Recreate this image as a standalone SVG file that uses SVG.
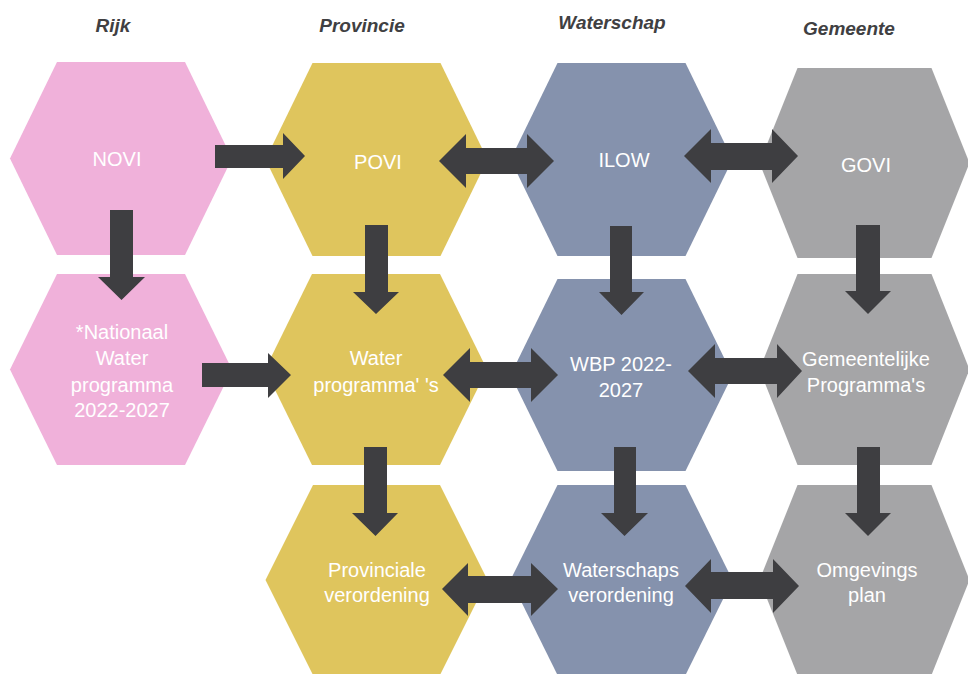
<svg xmlns="http://www.w3.org/2000/svg" width="968" height="674" viewBox="0 0 968 674">
<style>
.hdr{font-family:"Liberation Sans",Arial,sans-serif;font-size:19px;font-weight:bold;font-style:italic;fill:#404042;text-anchor:middle}
.lbl{font-family:"Liberation Sans",Arial,sans-serif;font-size:20px;fill:#ffffff;text-anchor:middle}
.rijk{fill:#f0b1da}
.prov{fill:#dfc55d}
.ws{fill:#8592ad}
.gem{fill:#a5a5a7}
.arr{fill:#3e3e41}
</style>
<rect width="968" height="674" fill="#ffffff"/>
<g id="headers">
<text class="hdr" x="113" y="32">Rijk</text>
<text class="hdr" x="362" y="32">Provincie</text>
<text class="hdr" x="612" y="29">Waterschap</text>
<text class="hdr" x="849" y="35">Gemeente</text>
</g>
<g id="node-novi"><polygon class="rijk" points="57,62 185,62 232,158.5 185,255 57,255 10,158.5"/><text class="lbl" x="117" y="166">NOVI</text></g>
<g id="node-nwp"><polygon class="rijk" points="57,274 185,274 232,369.5 185,465 57,465 10,369.5"/><text class="lbl" x="122"><tspan x="122" y="339">*Nationaal</tspan><tspan x="122" y="365">Water</tspan><tspan x="122" y="392">programma</tspan><tspan x="122" y="417">2022-2027</tspan></text></g>
<g id="node-povi"><polygon class="prov" points="312.5,63 440.5,63 487.5,159.5 440.5,256 312.5,256 265.5,159.5"/><text class="lbl" x="378" y="169">POVI</text></g>
<g id="node-waterprog"><polygon class="prov" points="312,274 440,274 487,369.5 440,465 312,465 265,369.5"/><text class="lbl"><tspan x="376" y="365">Water</tspan><tspan x="376" y="392">programma' 's</tspan></text></g>
<g id="node-provverord"><polygon class="prov" points="313,485 440,485 487.5,580 440,675 313,675 265.5,580"/><text class="lbl"><tspan x="377" y="577">Provinciale</tspan><tspan x="377" y="602">verordening</tspan></text></g>
<g id="node-ilow"><polygon class="ws" points="557.5,63 685.5,63 732.5,159.5 685.5,256 557.5,256 510.5,159.5"/><text class="lbl" x="624" y="167">ILOW</text></g>
<g id="node-wbp"><polygon class="ws" points="557.5,279 685.5,279 732.5,375 685.5,471 557.5,471 510.5,375"/><text class="lbl"><tspan x="621" y="371">WBP 2022-</tspan><tspan x="621" y="397">2027</tspan></text></g>
<g id="node-wsverord"><polygon class="ws" points="557.5,485 685.5,485 732.5,580 685.5,675 557.5,675 510.5,580"/><text class="lbl"><tspan x="621" y="577">Waterschaps</tspan><tspan x="621" y="602">verordening</tspan></text></g>
<g id="node-govi"><polygon class="gem" points="797.5,68 931.5,68 969.5,163 931.5,258 797.5,258 759.5,163"/><text class="lbl" x="866" y="172">GOVI</text></g>
<g id="node-gemprog"><polygon class="gem" points="797.5,274 931.5,274 969.5,369.5 931.5,465 797.5,465 759.5,369.5"/><text class="lbl"><tspan x="866" y="366">Gemeentelijke</tspan><tspan x="866" y="392">Programma's</tspan></text></g>
<g id="node-omgplan"><polygon class="gem" points="797.5,485 931.5,485 969.5,580 931.5,675 797.5,675 759.5,580"/><text class="lbl"><tspan x="867" y="577">Omgevings</tspan><tspan x="867" y="602">plan</tspan></text></g>
<g id="connectors">
<polygon class="arr" points="215,145 283,145 283,133 305,156 283,179 283,168 215,168"/>
<polygon class="arr" points="439,161 466,134 466,148 527,148 527,134 554,161 527,188 527,174 466,174 466,188"/>
<polygon class="arr" points="684,156 711,129 711,143 772,143 772,129 798,156 772,183 772,170 711,170 711,183"/>
<polygon class="arr" points="110,210 133,210 133,277 145,277 121.5,300 98,277 110,277"/>
<polygon class="arr" points="365,225 388,225 388,292 399,292 376,314 353,292 365,292"/>
<polygon class="arr" points="610,226 632,226 632,292 644,292 621.5,315 599,292 610,292"/>
<polygon class="arr" points="856,225 880,225 880,291 891,291 868,314 845,291 856,291"/>
<polygon class="arr" points="202,363 268,363 268,353 291,375 268,398 268,387 202,387"/>
<polygon class="arr" points="443,375 470,348 470,362 531,362 531,348 558,375 531,402 531,388 470,388 470,402"/>
<polygon class="arr" points="688,371 715,344 715,358 777,358 777,344 802,371 777,398 777,384 715,384 715,398"/>
<polygon class="arr" points="364,447 387,447 387,513 398,513 375.5,536 352,513 364,513"/>
<polygon class="arr" points="614,447 636,447 636,513 648,513 624.5,536 601,513 614,513"/>
<polygon class="arr" points="857,447 880,447 880,513 891,513 868,536 845,513 857,513"/>
<polygon class="arr" points="442,589 468,563 468,576 531,576 531,563 558,589 531,616 531,603 468,603 468,616"/>
<polygon class="arr" points="685,586 711,559 711,572 773,572 773,559 799,586 773,613 773,599 711,599 711,613"/>
</g>
</svg>
